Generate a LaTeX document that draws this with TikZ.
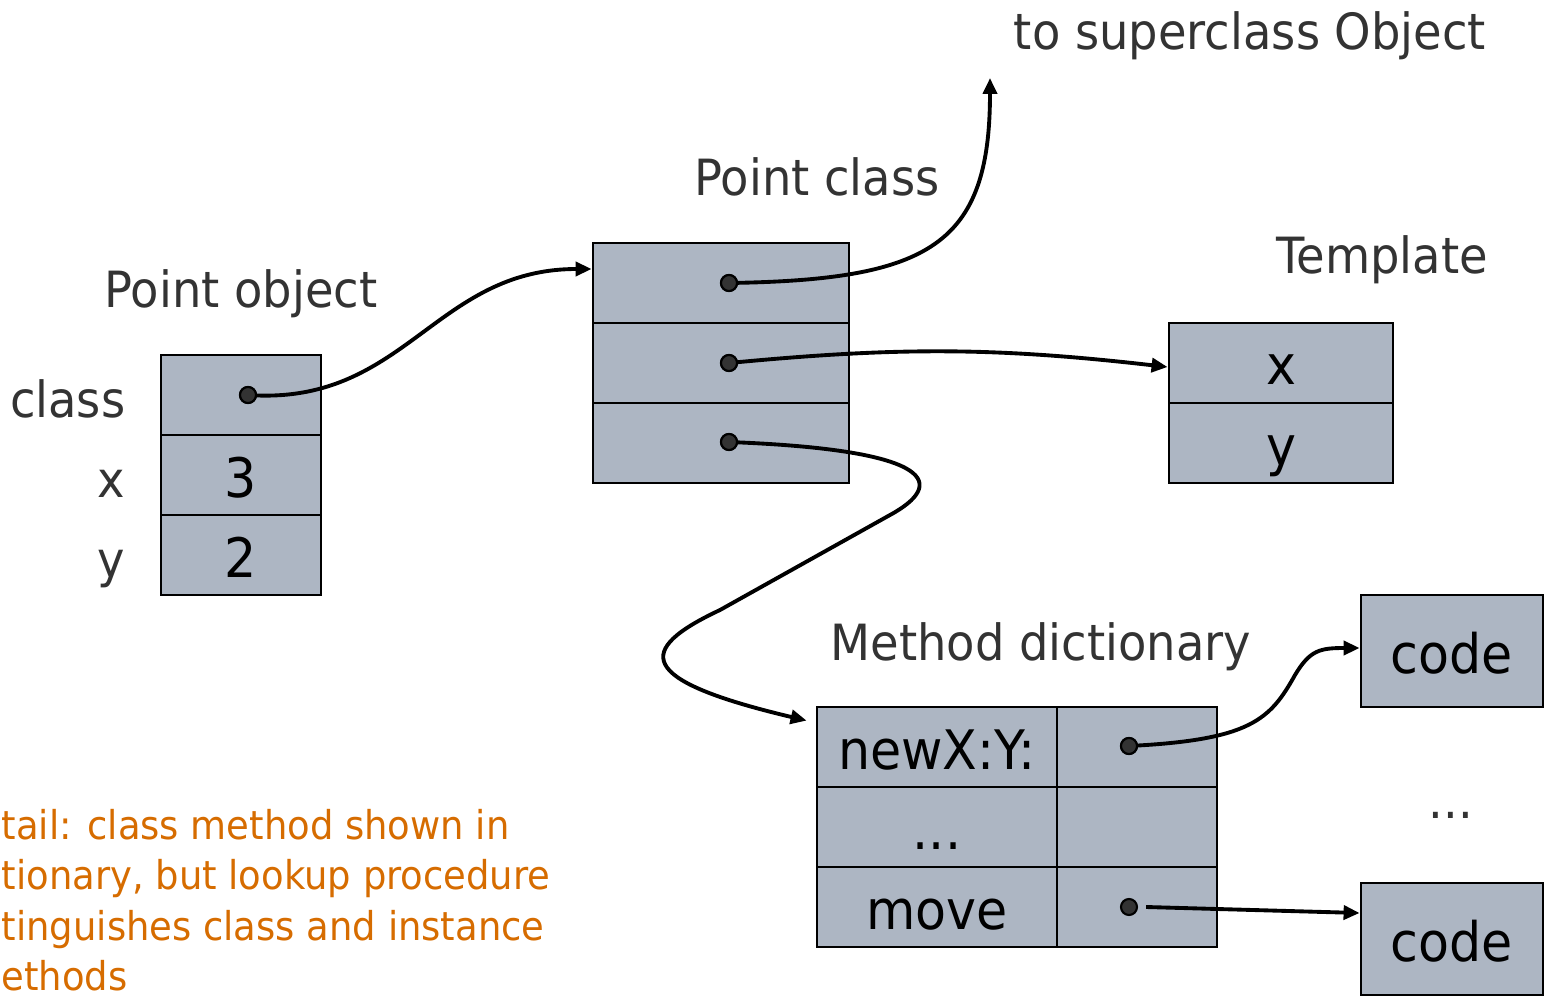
\documentclass[tikz,border=0pt]{standalone}
\usepackage{fontspec}
\setmainfont{DejaVu Sans}
\usetikzlibrary{arrows.meta,positioning}
\definecolor{boxgray}{RGB}{173,182,195}
\definecolor{labelgray}{RGB}{51,51,51}
\definecolor{noteorange}{RGB}{214,108,0}
\newcommand{\narrow}[1]{\scalebox{0.93}[1]{#1}}
\tikzset{
  cell/.style={draw, line width=0.8pt, fill=boxgray, inner sep=0pt, minimum height=0.8cm,
    font=\fontsize{15.5}{18}\selectfont, text height=0.52cm, text depth=0.08cm},
  lbl/.style={text=labelgray, inner sep=0pt, font=\fontsize{14.2}{17}\selectfont},
  dot/.style={circle, draw, fill=labelgray, line width=0.6pt, inner sep=0pt, minimum size=1.6mm},
  ptr/.style={line width=1.1pt, -{Triangle[length=1.6mm,width=1.4mm]}}
}
\begin{document}
\begin{tikzpicture}
    \useasboundingbox (0,0) rectangle (15.44,9.95);

    % Point object
    \node[lbl, anchor=base] (objtitle) at (2.41,6.88) {\narrow{Point object}};
    \node[cell, minimum width=1.6cm] (obj1) at (2.41,6.00) {};
    \node[cell, minimum width=1.6cm] (obj2) at (2.41,5.20) {\narrow{3}};
    \node[cell, minimum width=1.6cm] (obj3) at (2.41,4.40) {\narrow{2}};
    \node[lbl, anchor=base east] (lclass) at (1.26,5.78) {\narrow{class}};
    \node[lbl, anchor=base east] (lx) at (1.26,4.98) {\narrow{x}};
    \node[lbl, anchor=base east] (ly) at (1.26,4.18) {\narrow{y}};
    \node[dot] (d0) at (2.48,6.00) {};

    % Point class
    \node[lbl, anchor=base] (clstitle) at (8.17,8.00) {\narrow{Point class}};
    \node[cell, minimum width=2.56cm] (cls1) at (7.21,7.12) {};
    \node[cell, minimum width=2.56cm] (cls2) at (7.21,6.32) {};
    \node[cell, minimum width=2.56cm] (cls3) at (7.21,5.52) {};
    \node[dot] (d1) at (7.29,7.12) {};
    \node[dot] (d2) at (7.29,6.32) {};
    \node[dot] (d3) at (7.29,5.53) {};

    % Superclass
    \node[lbl, anchor=base] (super) at (12.50,9.45) {\narrow{to superclass Object}};
    \coordinate (up) at (9.90,9.17);

    % Template
    \node[lbl, anchor=base] (tpltitle) at (13.82,7.21) {\narrow{Template}};
    \node[cell, minimum width=2.24cm] (tpl1) at (12.81,6.32) {\narrow{x}};
    \node[cell, minimum width=2.24cm] (tpl2) at (12.81,5.52) {\narrow{y}};

    % Method dictionary
    \node[lbl, anchor=base] (mdtitle) at (10.41,3.35) {\narrow{Method dictionary}};
    \node[cell, minimum width=2.4cm] (md1) at (9.37,2.48) {\narrow{newX:Y:}};
    \node[cell, minimum width=2.4cm] (md2) at (9.37,1.68) {\narrow{...}};
    \node[cell, minimum width=2.4cm] (md3) at (9.37,0.88) {\narrow{move}};
    \node[cell, minimum width=1.6cm] (mp1) at (11.37,2.48) {};
    \node[cell, minimum width=1.6cm] (mp2) at (11.37,1.68) {};
    \node[cell, minimum width=1.6cm] (mp3) at (11.37,0.88) {};
    \node[dot] (d4) at (11.29,2.49) {};
    \node[dot] (d5) at (11.29,0.88) {};

    % Code
    \node[cell, minimum width=1.82cm, minimum height=1.12cm] (code1) at (14.52,3.44) {\narrow{code}};
    \node[cell, minimum width=1.82cm, minimum height=1.12cm] (code2) at (14.52,0.56) {\narrow{code}};
    \node[lbl, anchor=base] (more) at (14.51,1.77) {\narrow{...}};

    % Note
    \node[inner sep=0pt, anchor=base west, text=noteorange, font=\fontsize{11.3}{14.4}\selectfont] (note) at (0.01,1.56)
      {\narrow{\begin{tabular}[t]{@{}l@{}}tail: class method shown in\\tionary, but lookup procedure\\tinguishes class and instance\\ethods\end{tabular}}};

    % Pointers
    \draw[ptr] (d0.center) to[out=-4, in=180, looseness=1.1] ([yshift=1.4mm]cls1.west);
    \draw[ptr] (d1.center) .. controls (9.3,7.15) and (9.9,7.5) .. (up);
    \draw[ptr] (d2.center) to[bend left=6] ([yshift=-0.4mm]tpl1.west);
    \draw[ptr] (d3.center) .. controls (9.4,5.45) and (9.45,5.1) .. (8.9,4.8)
        -- (7.2,3.85) .. controls (6.35,3.45) and (6.35,3.15) .. ([xshift=-0.9mm,yshift=-1.5mm]md1.north west);
    \draw[ptr] (d4.center) .. controls (12.5,2.55) and (12.7,2.75) .. (12.95,3.2)
        .. controls (13.1,3.45) and (13.2,3.47) .. ([yshift=0.3mm]code1.west);
    \draw[ptr] (d5.east) ++(0.08,0) -- ([yshift=2.6mm]code2.west);
    \node[dot] at (d0) {};
    \node[dot] at (d1) {};
    \node[dot] at (d2) {};
    \node[dot] at (d3) {};
    \node[dot] at (d4) {};

\end{tikzpicture}
\end{document}
